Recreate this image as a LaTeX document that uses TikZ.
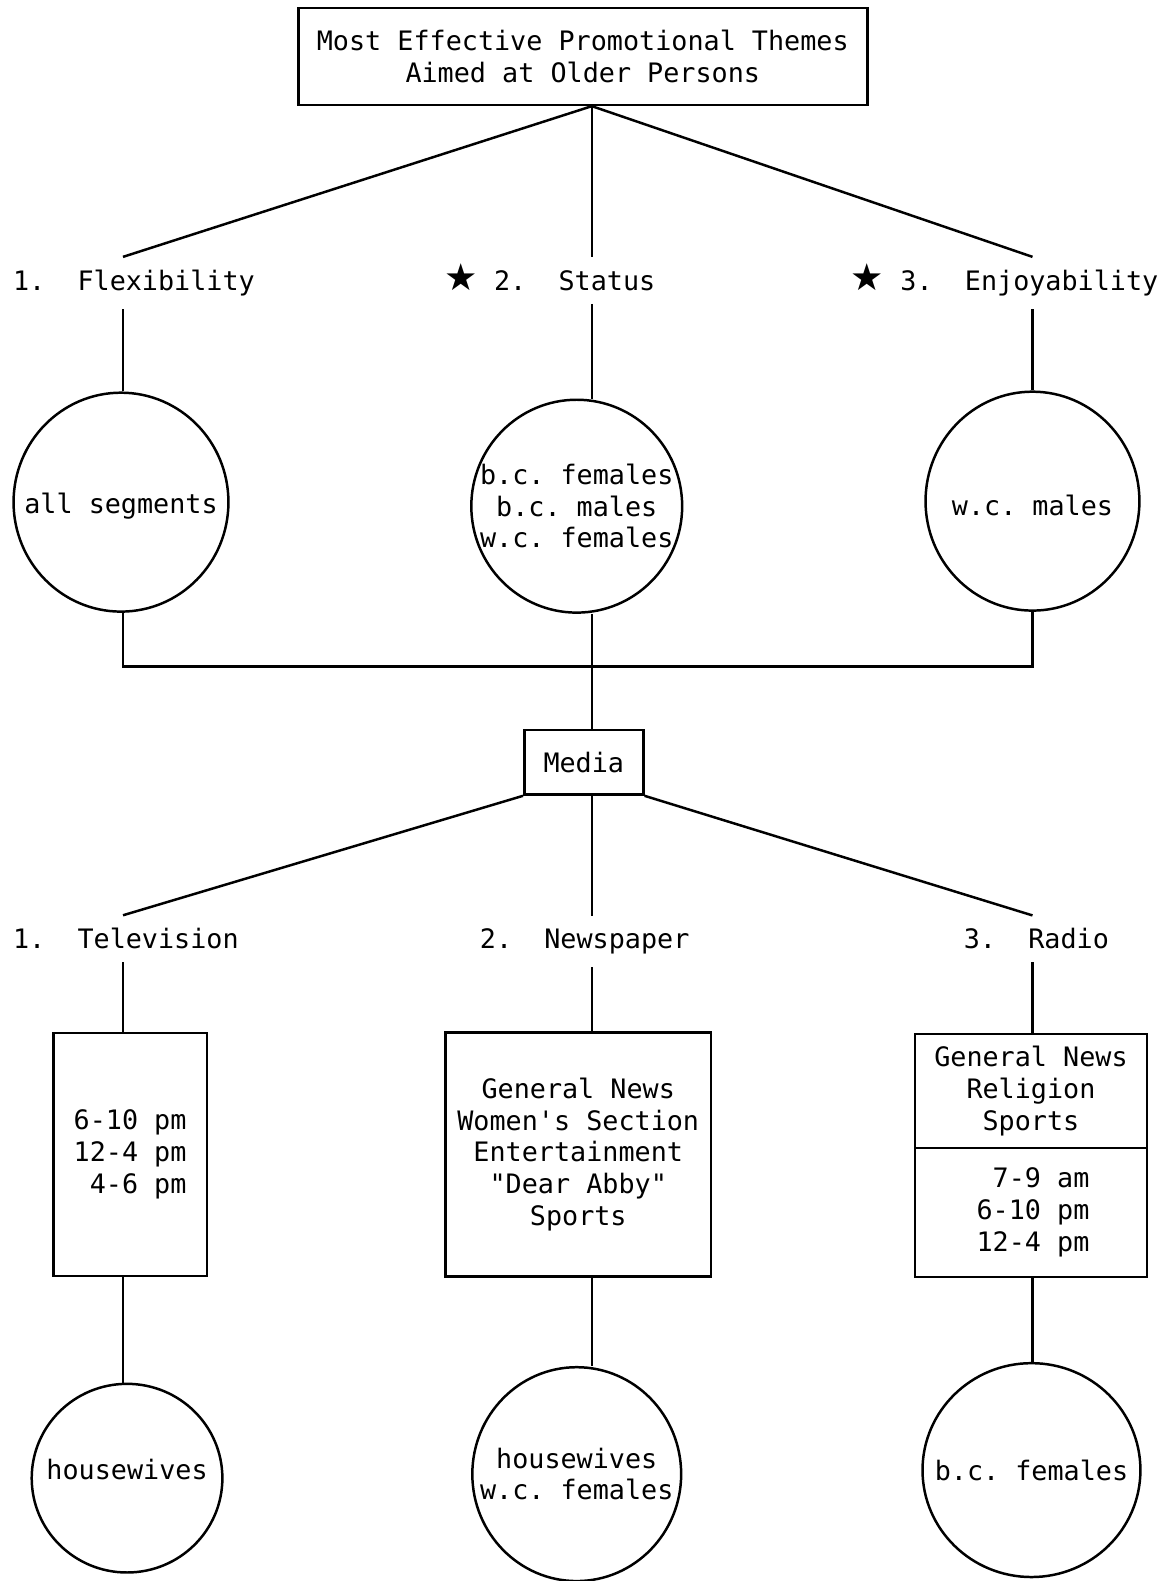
\documentclass[tikz,border=0pt]{standalone}
\usepackage{fontspec}
\setmonofont{DejaVu Sans Mono}
\newfontfamily\starfont{DejaVu Sans}
\usetikzlibrary{positioning,shapes.geometric}
\newcommand{\hstar}{\smash{\starfont\fontsize{10.5pt}{10.5pt}\selectfont ★}}

\begin{document}
\begin{tikzpicture}[x=0.01cm,y=-0.01cm,line width=0.7pt,font=\ttfamily\fontsize{7.55pt}{8.95pt}\selectfont]
        \tikzstyle{box}=[rectangle,draw=black,align=center]
        \tikzstyle{seg}=[ellipse,draw=black,inner sep=0pt]
        \tikzstyle{item}=[anchor=base west]
        \useasboundingbox (0,0) rectangle (1160,1568);
        \coordinate (colL) at (122,0);
        \coordinate (colM) at (587,661);
        \coordinate (colR) at (1024,0);
        \node[box,minimum width=5.64cm,minimum height=0.96cm] (title) at (578,56) {Most Effective Promotional Themes\\Aimed at Older Persons};
        \node[item] (flex) at (0,288) {1.~~Flexibility};
        \node[item] (stat) at (428,288) {\hstar~2.~~Status};
        \node[item] (enjoy) at (831,288) {\hstar~3.~~Enjoyability};
        \node[seg,minimum width=2.13cm,minimum height=2.17cm,label={[yshift=-0.04cm]center:all segments}] (segall) at (120,498) {};
        \node[seg,minimum width=2.09cm,minimum height=2.11cm,label={[align=center]center:{b.c. females\\b.c. males\\w.c. females}}] (segstat) at (572,502) {};
        \node[seg,minimum width=2.12cm,minimum height=2.17cm,label={[yshift=-0.04cm]center:w.c. males}] (segenj) at (1024,497) {};
        \node[box,minimum width=1.18cm,minimum height=0.64cm] (media) at (579,756) {Media};
        \node[item] (tv) at (0,941) {1.~~Television};
        \node[item] (paper) at (463,941) {2.~~Newspaper};
        \node[item] (radio) at (943,941) {3.~~Radio};
        \node[box,align=right,minimum width=1.52cm,minimum height=2.41cm] (tvtimes) at (129,1145) {6-10 pm\\12-4 pm\\4-6 pm};
        \node[box,minimum width=2.63cm,minimum height=2.42cm] (papersec) at (573.5,1145) {General News\\Women\textquotesingle s Section\\Entertainment\\\textquotedbl Dear Abby\textquotedbl\\Sports};
        \node[box,outer sep=0pt,minimum width=2.30cm,minimum height=1.13cm] (radiosec) at (1022.5,1082) {General News\\Religion\\Sports};
        \node[box,outer sep=0pt,align=right,minimum width=2.30cm,minimum height=1.28cm,below=0pt of radiosec] (radiotimes) {\hspace*{0.2cm}7-9 am\\6-10 pm\\12-4 pm};
        \node[seg,minimum width=1.89cm,minimum height=1.87cm,label={[yshift=0.09cm]center:housewives}] (segtv) at (126,1466) {};
        \node[seg,minimum width=2.07cm,minimum height=2.12cm,label={[align=center]center:{housewives\\w.c. females}}] (segpaper) at (572,1462) {};
        \node[seg,minimum width=2.16cm,minimum height=2.12cm,label={center:b.c. females}] (segradio) at (1023,1458) {};
        \draw (title.south -| colM) -- (flex.north -| colL);
        \draw (title.south -| colM) -- (stat.north -| colM);
        \draw (title.south -| colM) -- (enjoy.north -| colR);
        \draw (flex.south -| colL) -- (segall.north -| colL);
        \draw (stat.south -| colM) -- (segstat.north -| colM);
        \draw (enjoy.south -| colR) -- (segenj.north -| colR);
        \draw (segall.south -| colL) |- (colM) -| (segenj.south -| colR);
        \draw (segstat.south -| colM) -- (media.north -| colM);
        \draw (media.south west) -- (tv.north -| colL);
        \draw (media.south -| colM) -- (paper.north -| colM);
        \draw (media.south east) -- (radio.north -| colR);
        \draw (tv.south -| colL) -- (tvtimes.north -| colL);
        \draw (paper.south -| colM) -- (papersec.north -| colM);
        \draw (radio.south -| colR) -- (radiosec.north -| colR);
        \draw (tvtimes.south -| colL) -- (segtv.north -| colL);
        \draw (papersec.south -| colM) -- (segpaper.north -| colM);
        \draw (radiotimes.south -| colR) -- (segradio.north -| colR);
\end{tikzpicture}
\end{document}
